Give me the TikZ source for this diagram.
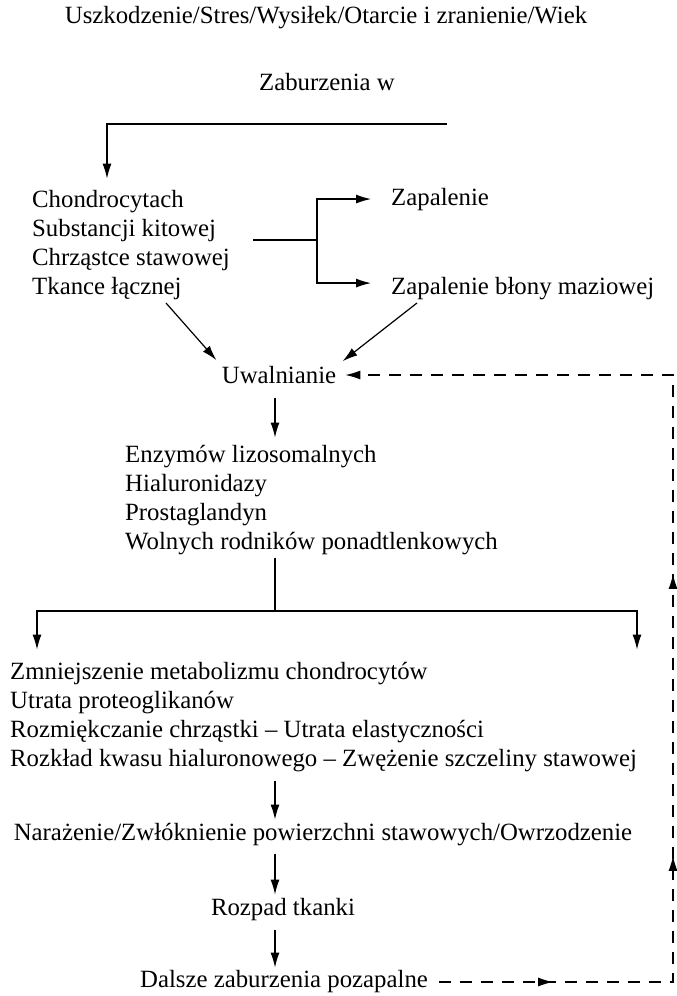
\documentclass[tikz,border=0pt]{standalone}
\usepackage{fontspec}
\setmainfont{Liberation Serif}
\usetikzlibrary{arrows.meta,decorations.markings}
\tikzset{
  tekst/.style={inner sep=0pt},
  wiersz/.style={inner sep=0pt, anchor=base west},
  linia/.style={line width=1.2pt},
  grot/.tip={Latex[length=15pt,width=9pt]},
  strz/.style={line width=1.2pt, -grot, shorten <=8pt, shorten >=4pt},
  przer/.style={line width=1.2pt, dash pattern=on 12pt off 9pt}
}
\begin{document}
\begin{tikzpicture}[x=1pt,y=-1pt,font=\fontsize{24.8}{29}\selectfont]
\useasboundingbox (0,0) rectangle (677,996);
% przyczyny
\node[tekst] (przyczyny) at (326,18) {Uszkodzenie/Stres/Wysiłek/Otarcie i zranienie/Wiek};
\node[tekst] (zab) at (327,82) {Zaburzenia w};
% miejsca zaburzen
\foreach \napis [count=\i] in {Chondrocytach,Substancji kitowej,Chrząstce stawowej,Tkance łącznej}
  \node[wiersz] (m\i) at (32,178+29*\i) {\napis};
\node[wiersz] (zap1) at (391,205) {Zapalenie};
\node[wiersz] (zap2) at (391,294) {Zapalenie błony maziowej};
\node[tekst] (uwal) at (279,375) {Uwalnianie};
% uwalniane substancje
\foreach \napis [count=\i] in {Enzymów lizosomalnych,Hialuronidazy,Prostaglandyn,Wolnych rodników ponadtlenkowych}
  \node[wiersz] (u\i) at (125,433+29*\i) {\napis};
% skutki
\foreach \napis [count=\i] in {Zmniejszenie metabolizmu chondrocytów,Utrata proteoglikanów,Rozmiękczanie chrząstki – Utrata elastyczności,Rozkład kwasu hialuronowego – Zwężenie szczeliny stawowej}
  \node[wiersz] (s\i) at (10,650+29*\i) {\napis};
\node[tekst] (naraz) at (323,835) {Narażenie/Zwłóknienie powierzchni stawowych/Owrzodzenie};
\node[tekst] (rozpad) at (283,910) {Rozpad tkanki};
\node[tekst] (dalsze) at (284,982) {Dalsze zaburzenia pozapalne};
% polaczenia
\coordinate (zp) at (447,124);
\coordinate (zl) at (107,124);
\draw[strz, shorten <=0pt, shorten >=11pt] (zp) -- (zl) -- (zl |- m1.north);
\coordinate (w1) at (253,240);
\coordinate (w2) at (317,240);
\draw[linia] (w1) -- (w2);
\draw[strz, shorten <=0pt, shorten >=20pt] (w2) |- (zap1.west);
\draw[strz, shorten <=0pt, shorten >=20pt] (w2) |- ([yshift=5pt]zap2.west);
\coordinate (d1) at (166,303);
\coordinate (d2) at (417,303);
\draw[strz, shorten <=0pt, shorten >=8pt] (d1) -- (uwal.north west);
\draw[strz, shorten <=0pt, shorten >=8pt] (d2) -- (uwal.north east);
\coordinate (os) at (275,0);
\draw[strz, shorten <=14pt, shorten >=7pt] (os |- uwal.south) -- (os |- u1.north);
\coordinate (r1) at (275,611);
\coordinate (rl) at (37,611);
\coordinate (rp) at (637,611);
\draw[linia, shorten <=3pt] (r1 |- u4.south) -- (r1);
\draw[strz, shorten <=0pt, shorten >=12pt] (r1) -- (rl) -- (rl |- s1.north);
\draw[strz, shorten <=0pt, shorten >=12pt] (r1) -- (rp) -- (rp |- s1.north);
\draw[strz, shorten <=9pt, shorten >=4pt] (os |- s4.south) -- (os |- naraz.north);
\draw[strz, shorten <=7pt, shorten >=4pt] (os |- naraz.south) -- (os |- rozpad.north);
\draw[strz, shorten <=9pt, shorten >=3pt] (os |- rozpad.south) -- (os |- dalsze.north);
% sprzezenie zwrotne
\coordinate (pr) at (673,0);
\draw[przer, -grot, shorten <=11pt, shorten >=9pt,
  postaction={decorate}, decoration={markings,
    mark=at position 125pt with {\arrow{grot}},
    mark=at position 371pt with {\arrow{grot}},
    mark=at position 653pt with {\arrow{grot}}}]
  (dalsze.east) -- (dalsze.east -| pr) -- (uwal.east -| pr) -- (uwal.east);
\end{tikzpicture}
\end{document}
